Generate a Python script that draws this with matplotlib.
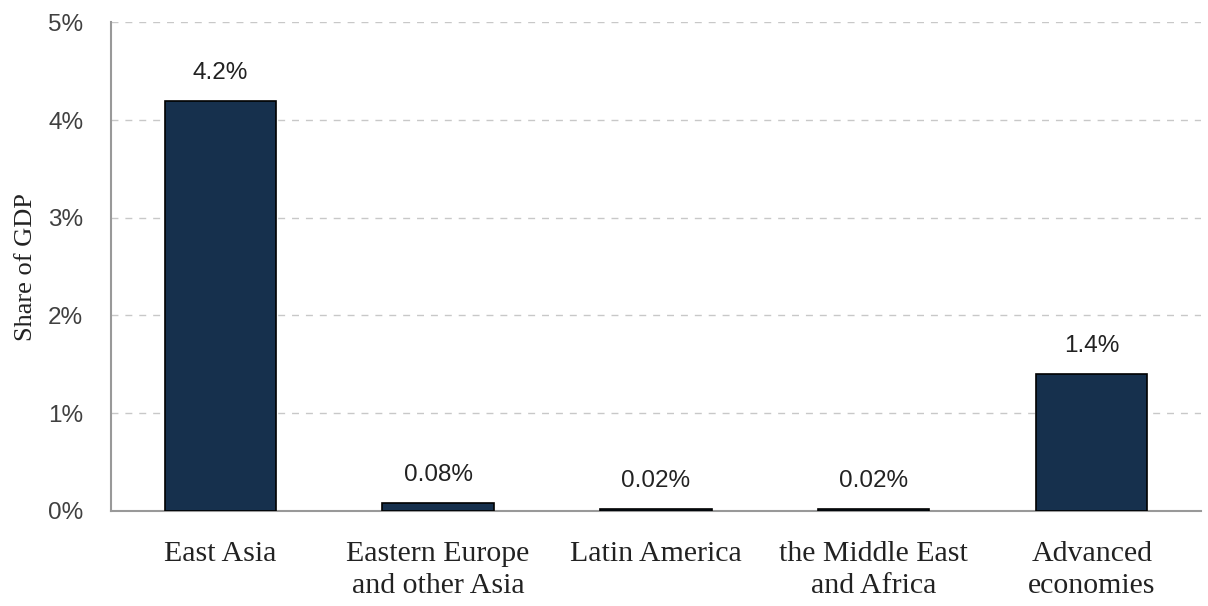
import matplotlib.pyplot as plt
from matplotlib.ticker import FuncFormatter

# data
regions = ["East Asia", "Eastern Europe\nand other Asia", "Latin America",
           "the Middle East\nand Africa", "Advanced\neconomies"]
shares = [4.2, 0.08, 0.02, 0.02, 1.4]
labels = ["4.2%", "0.08%", "0.02%", "0.02%", "1.4%"]

fig, ax = plt.subplots(figsize=(12.08, 6.06), dpi=100)
fig.subplots_adjust(left=0.092, right=0.994, top=0.963, bottom=0.157)

x = range(len(regions))
bars = ax.bar(x, shares, width=0.51, color="#16304d", edgecolor="black", linewidth=1.2, zorder=3)

for b, lab in zip(bars, labels):
    ax.text(b.get_x() + b.get_width() / 2, b.get_height() + 0.17, lab,
            ha="center", va="bottom", fontsize=17.5, color="#222222",
            family="Liberation Sans")

ax.set_xlim(-0.5, len(regions) - 0.5)
ax.set_ylim(0, 5)
ax.set_yticks(range(6))
ax.yaxis.set_major_formatter(FuncFormatter(lambda v, p: f"{v:.0f}%"))
ax.set_xticks(list(x))
ax.set_xticklabels(regions, family="Liberation Serif", fontsize=21.5, color="#222222",
                   linespacing=1.3)
for t in ax.get_yticklabels():
    t.set_family("Liberation Sans")
    t.set_fontsize(17.5)
    t.set_color("#404040")

ax.tick_params(axis="both", length=0)
ax.tick_params(axis="x", pad=22)
ax.tick_params(axis="y", pad=20)
ax.grid(axis="y", linestyle=(0, (5, 5)), color="#c8c8c8", linewidth=1, zorder=0)

for s in ["top", "right"]:
    ax.spines[s].set_visible(False)
ax.spines["left"].set_color("#999999")
ax.spines["bottom"].set_color("#999999")
ax.spines["left"].set_linewidth(1.5)
ax.spines["bottom"].set_linewidth(1.5)

ax.set_ylabel("Share of GDP", family="Liberation Serif", fontsize=19, color="#222222")
ax.yaxis.set_label_coords(-0.068, 0.5)

fig.savefig("out.png")
